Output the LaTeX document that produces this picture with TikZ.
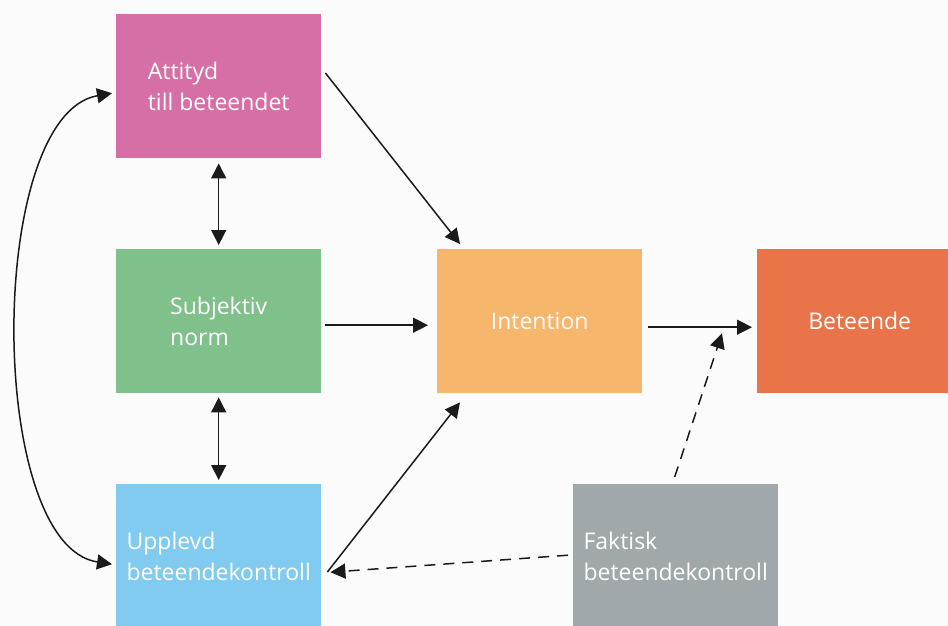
\documentclass[tikz,border=0pt]{standalone}
\usepackage{fontspec}
\setmainfont{Open Sans}
\usetikzlibrary{arrows.meta}
\definecolor{bgc}{HTML}{FBFBFB}
\definecolor{cpink}{HTML}{D66FA6}
\definecolor{cgreen}{HTML}{80C08A}
\definecolor{cblue}{HTML}{82CBF0}
\definecolor{corange}{HTML}{F6B66B}
\definecolor{cred}{HTML}{EA744A}
\definecolor{cgray}{HTML}{A0A8AB}
\definecolor{ink}{HTML}{1A1A1A}
\begin{document}
\begin{tikzpicture}[x=1pt,y=-1pt,
  box/.style={minimum width=205pt,minimum height=144pt,inner sep=0pt,anchor=north west,
    text=white,align=left,font=\fontsize{23}{31}\selectfont},
  arr/.style={line width=1.5pt,draw=ink,-{Triangle[length=15pt,width=15pt]}},
  darr/.style={arr,dash pattern=on 11pt off 8pt},
  barr/.style={line width=1.5pt,draw=ink,{Triangle[length=15pt,width=15pt]}-{Triangle[length=15pt,width=15pt]}}]
\fill[bgc] (0,0) rectangle (948,626);
\useasboundingbox (0,0) rectangle (948,626);
\begin{scope}
\clip (0,0) rectangle (948,626);
\node[box,fill=cpink] (att) at (116,14) {Attityd\\till beteendet};
\node[box,fill=cgreen] (sub) at (116,249) {Subjektiv\\norm};
\node[box,fill=cblue] (upp) at (116,484) {Upplevd\\beteendekontroll};
\node[box,fill=corange] (int) at (437,249) {Intention};
\node[box,fill=cred] (bet) at (757,249) {Beteende};
\node[box,fill=cgray] (fak) at (573,484) {Faktisk\\beteendekontroll};
\end{scope}
\draw[arr] ([shift={(4,59)}]att.north east) -- ([shift={(23,-5)}]int.north west);
\draw[barr] ([shift={(0,5)}]att.south) -- ([shift={(0,-4)}]sub.north);
\draw[barr] ([shift={(0,4)}]sub.south) -- ([shift={(0,-4)}]upp.north);
\draw[arr] ([shift={(4,4)}]sub.east) -- ([shift={(-9,4)}]int.west);
\draw[arr] ([shift={(6,88)}]upp.north east) -- ([shift={(23,9)}]int.south west);
\draw[arr] ([shift={(6,6)}]int.east) -- ([shift={(-5,6)}]bet.west);
\draw[darr] ([shift={(-1,-7)}]fak.north) -- ([shift={(-35,-60)}]bet.south west);
\draw[darr] ([shift={(-5,-1)}]fak.west) -- ([shift={(9,16)}]upp.east);
\draw[barr] ([shift={(-4,7)}]att.west) .. controls (-14,115) and (-14,545) .. ([shift={(-4,8)}]upp.west);
\end{tikzpicture}
\end{document}
